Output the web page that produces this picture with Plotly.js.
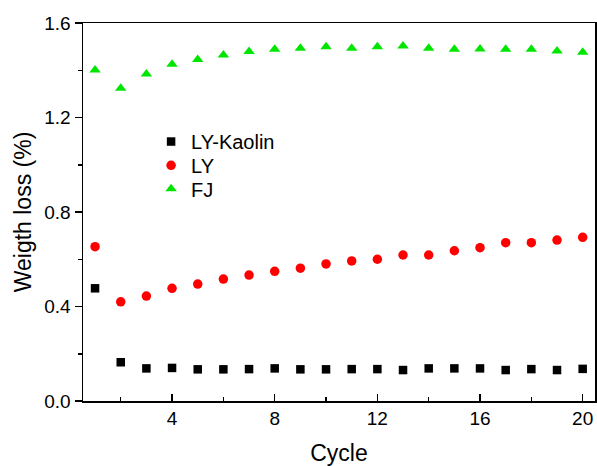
<!DOCTYPE html>
<html>
<head>
<meta charset="utf-8">
<script src="https://cdn.plot.ly/plotly-3.0.1.min.js"></script>
<style>html,body{margin:0;padding:0;background:#fff;}#chart{width:597px;height:466px;}</style>
</head>
<body>
<div id="chart"></div>
<script>
var cycles = [1,2,3,4,5,6,7,8,9,10,11,12,13,14,15,16,17,18,19,20];
var lyKaolin = [0.477,0.164,0.138,0.140,0.134,0.134,0.135,0.138,0.134,0.134,0.135,0.135,0.131,0.138,0.138,0.138,0.131,0.135,0.131,0.136];
var ly = [0.653,0.420,0.444,0.477,0.495,0.516,0.533,0.549,0.562,0.580,0.593,0.600,0.618,0.618,0.636,0.649,0.670,0.670,0.681,0.693];
var fj = [1.401,1.324,1.384,1.425,1.446,1.465,1.479,1.489,1.493,1.500,1.493,1.500,1.503,1.493,1.489,1.490,1.489,1.489,1.482,1.476];
var seriesNames = ['LY-Kaolin','LY','FJ'];

var font = 'Arial, "Liberation Sans", sans-serif';
var traces = [
  {x: cycles, y: lyKaolin, name: seriesNames[0], mode: 'markers', type: 'scatter', legend: 'legend',
   marker: {symbol: 'square', size: 8.5, color: '#000000'}},
  {x: cycles, y: ly, name: seriesNames[1], mode: 'markers', type: 'scatter', legend: 'legend2',
   marker: {symbol: 'circle', size: 9.5, color: '#ff0000'}},
  {x: cycles, y: fj, name: seriesNames[2], mode: 'markers', type: 'scatter', legend: 'legend3',
   marker: {symbol: 'triangle-up', size: 10, color: '#00e600'}}
];
function leg(y) {
  return {x: 0.133, y: y, xanchor: 'left', yanchor: 'top', bgcolor: 'rgba(0,0,0,0)',
          font: {family: font, size: 20, color: '#000'}};
}
var layout = {
  width: 597, height: 466,
  margin: {l: 83, r: 2, t: 23, b: 65},
  paper_bgcolor: '#fff', plot_bgcolor: '#fff',
  font: {family: font, size: 19, color: '#000'},
  showlegend: true,
  legend: leg(0.738),
  legend2: leg(0.675),
  legend3: leg(0.613),
  xaxis: {
    range: [0.53, 20.48], tickmode: 'array', tickvals: [4,8,12,16,20],
    ticks: 'inside', ticklen: 7, tickwidth: 1.5, tickcolor: '#000',
    showline: true, linecolor: '#000', linewidth: 1.5, mirror: true,
    showgrid: false, zeroline: false,
    minor: {tickvals: [2,6,10,14,18], ticks: 'inside', ticklen: 4, tickwidth: 1.5, tickcolor: '#000', showgrid: false},
    title: {text: 'Cycle', font: {family: font, size: 23, color: '#000'}, standoff: 18},
    tickfont: {family: font, size: 19, color: '#000'}
  },
  yaxis: {
    range: [0, 1.6], tickmode: 'array', tickvals: [0,0.4,0.8,1.2,1.6],
    ticktext: ['0.0','0.4','0.8','1.2','1.6'],
    ticks: 'outside', ticklen: 7, tickwidth: 1.5, tickcolor: '#000',
    showline: true, linecolor: '#000', linewidth: 1.5, mirror: true,
    showgrid: false, zeroline: false,
    minor: {tickvals: [0.2,0.6,1.0,1.4], ticks: 'outside', ticklen: 4, tickwidth: 1.5, tickcolor: '#000', showgrid: false},
    title: {text: 'Weigth loss (%)', font: {family: font, size: 23, color: '#000'}, standoff: 6},
    tickfont: {family: font, size: 19, color: '#000'}
  }
};
Plotly.newPlot('chart', traces, layout, {staticPlot: true, displayModeBar: false});
</script>
</body>
</html>
